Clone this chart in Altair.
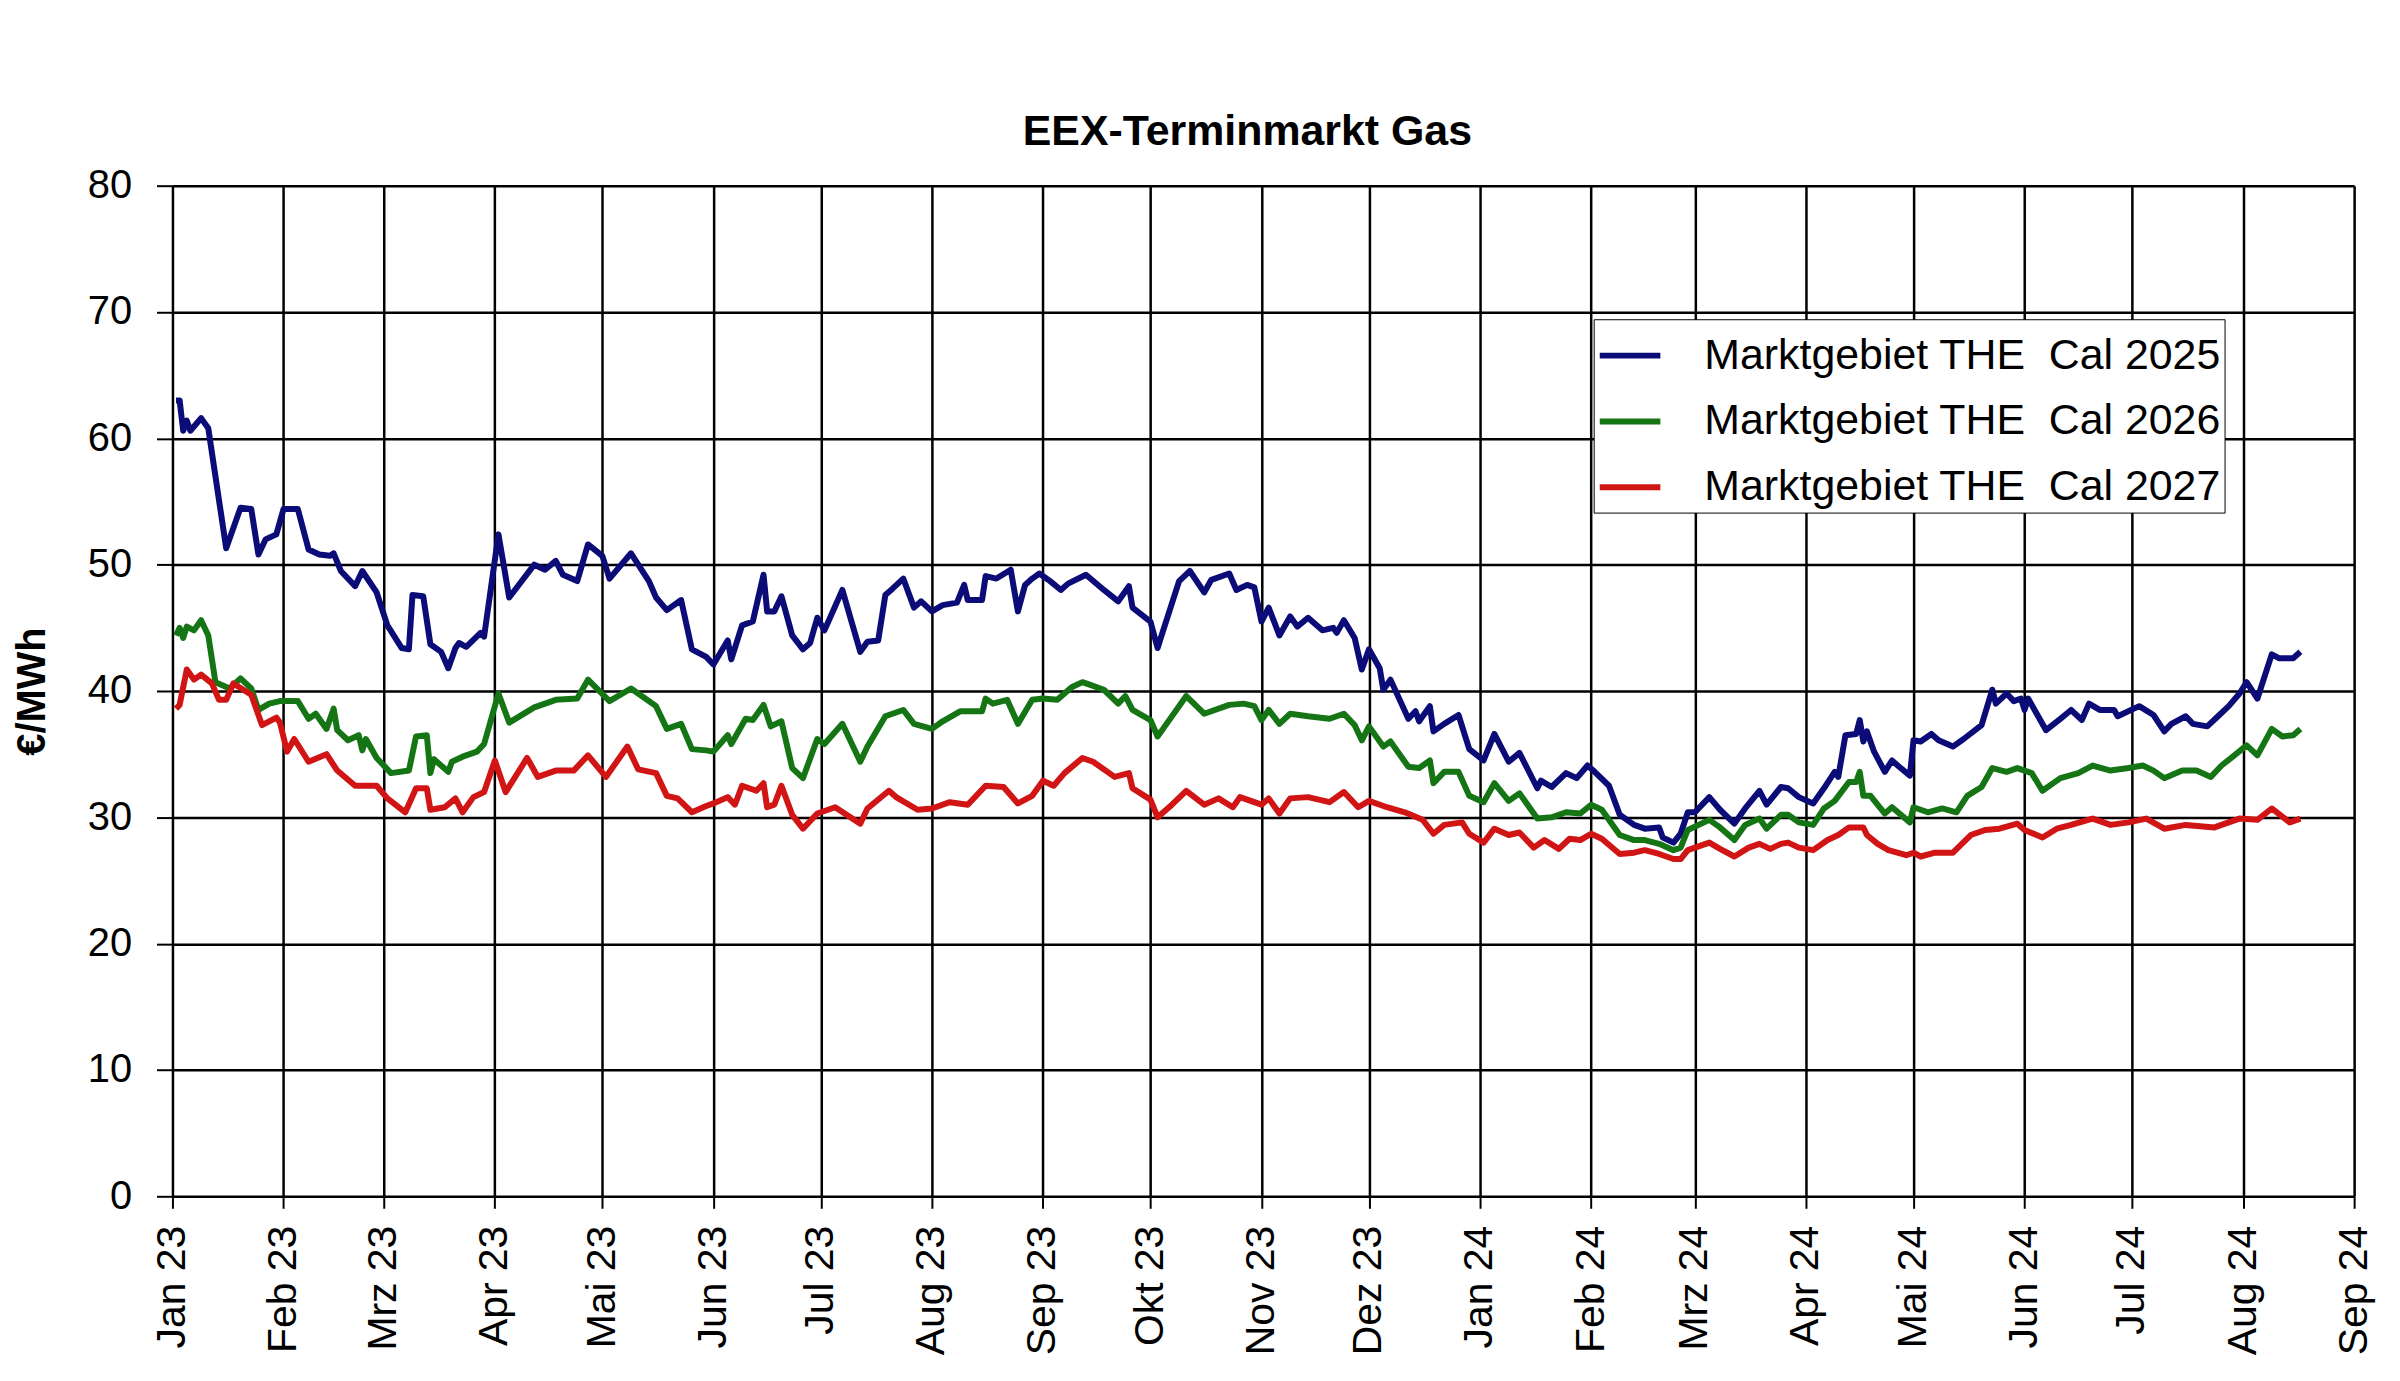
import altair as alt
import pandas as pd

# ---------------- data ----------------
series_names = ["Marktgebiet THE\u00a0 Cal 2025", "Marktgebiet THE\u00a0 Cal 2026", "Marktgebiet THE\u00a0 Cal 2027"]
series_colors = ["#0c0c78", "#157515", "#d11414"]

dates_2025 = [
    "2023-01-02","2023-01-03","2023-01-04","2023-01-05","2023-01-06","2023-01-09","2023-01-11","2023-01-16","2023-01-20","2023-01-23",
    "2023-01-25","2023-01-27","2023-01-30","2023-02-01","2023-02-05","2023-02-08","2023-02-11","2023-02-14","2023-02-15","2023-02-17",
    "2023-02-21","2023-02-23","2023-02-27","2023-03-02","2023-03-06","2023-03-08","2023-03-09","2023-03-12","2023-03-14","2023-03-17",
    "2023-03-19","2023-03-21","2023-03-22","2023-03-24","2023-03-28","2023-03-29","2023-04-02","2023-04-05","2023-04-12","2023-04-15",
    "2023-04-18","2023-04-20","2023-04-24","2023-04-27","2023-05-01","2023-05-03","2023-05-09","2023-05-14","2023-05-16","2023-05-19",
    "2023-05-23","2023-05-26","2023-05-30","2023-06-01","2023-06-05","2023-06-06","2023-06-09","2023-06-12","2023-06-15","2023-06-16",
    "2023-06-18","2023-06-20","2023-06-23","2023-06-26","2023-06-28","2023-06-30","2023-07-02","2023-07-07","2023-07-12","2023-07-14",
    "2023-07-17","2023-07-19","2023-07-21","2023-07-24","2023-07-27","2023-07-29","2023-08-01","2023-08-04","2023-08-08","2023-08-10",
    "2023-08-11","2023-08-15","2023-08-16","2023-08-19","2023-08-23","2023-08-25","2023-08-27","2023-08-29","2023-08-31","2023-09-03",
    "2023-09-06","2023-09-08","2023-09-13","2023-09-18","2023-09-22","2023-09-25","2023-09-26","2023-10-01","2023-10-03","2023-10-04",
    "2023-10-09","2023-10-12","2023-10-16","2023-10-18","2023-10-23","2023-10-25","2023-10-28","2023-10-30","2023-11-01","2023-11-03",
    "2023-11-06","2023-11-09","2023-11-11","2023-11-14","2023-11-18","2023-11-21","2023-11-22","2023-11-24","2023-11-27","2023-11-29",
    "2023-12-01","2023-12-04","2023-12-05","2023-12-07","2023-12-12","2023-12-14","2023-12-15","2023-12-18","2023-12-19","2023-12-22",
    "2023-12-26","2023-12-29","2024-01-02","2024-01-05","2024-01-09","2024-01-12","2024-01-17","2024-01-18","2024-01-21","2024-01-25",
    "2024-01-28","2024-01-31","2024-02-02","2024-02-06","2024-02-09","2024-02-13","2024-02-16","2024-02-20","2024-02-21","2024-02-24",
    "2024-02-26","2024-02-28","2024-03-01","2024-03-05","2024-03-08","2024-03-12","2024-03-15","2024-03-19","2024-03-21","2024-03-25",
    "2024-03-27","2024-03-30","2024-04-03","2024-04-06","2024-04-09","2024-04-10","2024-04-12","2024-04-15","2024-04-16","2024-04-17",
    "2024-04-18","2024-04-20","2024-04-23","2024-04-25","2024-04-27","2024-04-30","2024-05-01","2024-05-03","2024-05-06","2024-05-08",
    "2024-05-12","2024-05-15","2024-05-20","2024-05-23","2024-05-24","2024-05-27","2024-05-29","2024-05-31","2024-06-01","2024-06-02",
    "2024-06-07","2024-06-11","2024-06-14","2024-06-17","2024-06-19","2024-06-22","2024-06-26","2024-06-27","2024-07-03","2024-07-07",
    "2024-07-10","2024-07-12","2024-07-16","2024-07-18","2024-07-22","2024-07-25","2024-07-28","2024-07-31","2024-08-02","2024-08-05",
    "2024-08-09","2024-08-11","2024-08-15","2024-08-17",
]
values_2025 = [
    63.0,63.0,60.6,61.4,60.6,61.6,60.8,51.3,54.5,54.4,
    50.8,52.0,52.4,54.4,54.4,51.2,50.8,50.7,50.9,49.5,
    48.3,49.5,47.8,45.2,43.4,43.3,47.6,47.5,43.7,43.1,
    41.8,43.4,43.8,43.5,44.6,44.3,52.4,47.4,50.0,49.6,
    50.3,49.2,48.7,51.6,50.7,48.9,50.9,48.7,47.4,46.4,
    47.2,43.3,42.7,42.1,44.0,42.5,45.2,45.5,49.2,46.3,
    46.3,47.5,44.4,43.3,43.8,45.8,44.8,48.0,43.1,43.9,
    44.0,47.6,48.1,48.9,46.6,47.1,46.3,46.8,47.0,48.4,
    47.2,47.2,49.1,48.9,49.6,46.3,48.4,48.9,49.3,48.7,
    48.0,48.5,49.2,48.0,47.1,48.3,46.6,45.5,43.4,44.3,
    48.7,49.5,47.8,48.8,49.3,48.0,48.4,48.2,45.5,46.6,
    44.4,45.9,45.1,45.8,44.8,45.0,44.6,45.6,44.2,41.7,
    43.3,41.8,40.1,40.9,37.8,38.4,37.6,38.8,36.8,37.4,
    38.1,35.4,34.5,36.6,34.4,35.1,32.3,32.9,32.4,33.5,
    33.1,34.1,33.6,32.5,30.2,29.4,29.1,29.2,28.4,28.0,
    28.7,30.4,30.4,31.6,30.6,29.5,30.7,32.1,31.0,32.4,
    32.3,31.6,31.1,32.3,33.6,33.2,36.5,36.6,37.7,36.0,
    36.8,35.2,33.6,34.5,34.0,33.3,36.1,36.0,36.6,36.1,
    35.6,36.2,37.3,40.1,39.0,39.8,39.2,39.4,38.5,39.4,
    36.9,37.8,38.5,37.7,39.0,38.5,38.5,38.0,38.8,38.1,
    36.8,37.4,38.0,37.4,37.2,38.0,38.8,39.8,40.7,39.4,
    42.9,42.6,42.6,43.1,
]

dates_2026 = [
    "2023-01-02","2023-01-03","2023-01-04","2023-01-05","2023-01-07","2023-01-09","2023-01-11","2023-01-13","2023-01-17","2023-01-20",
    "2023-01-23","2023-01-25","2023-01-28","2023-01-31","2023-02-05","2023-02-08","2023-02-10","2023-02-13","2023-02-15","2023-02-16",
    "2023-02-19","2023-02-22","2023-02-23","2023-02-24","2023-02-27","2023-03-03","2023-03-08","2023-03-10","2023-03-13","2023-03-14",
    "2023-03-15","2023-03-19","2023-03-20","2023-03-23","2023-03-27","2023-03-29","2023-04-02","2023-04-05","2023-04-12","2023-04-18",
    "2023-04-24","2023-04-27","2023-05-03","2023-05-09","2023-05-16","2023-05-19","2023-05-23","2023-05-26","2023-05-30","2023-06-01",
    "2023-06-05","2023-06-06","2023-06-10","2023-06-12","2023-06-15","2023-06-17","2023-06-20","2023-06-23","2023-06-26","2023-06-30",
    "2023-07-02","2023-07-07","2023-07-12","2023-07-14","2023-07-19","2023-07-24","2023-07-27","2023-08-01","2023-08-04","2023-08-09",
    "2023-08-15","2023-08-16","2023-08-18","2023-08-22","2023-08-25","2023-08-29","2023-09-01","2023-09-05","2023-09-09","2023-09-12",
    "2023-09-14","2023-09-18","2023-09-22","2023-09-24","2023-09-26","2023-10-01","2023-10-03","2023-10-05","2023-10-11","2023-10-16",
    "2023-10-23","2023-10-27","2023-10-30","2023-11-01","2023-11-03","2023-11-06","2023-11-09","2023-11-14","2023-11-20","2023-11-24",
    "2023-11-27","2023-11-29","2023-12-01","2023-12-05","2023-12-07","2023-12-12","2023-12-15","2023-12-18","2023-12-19","2023-12-22",
    "2023-12-26","2023-12-29","2024-01-02","2024-01-05","2024-01-09","2024-01-12","2024-01-17","2024-01-21","2024-01-25","2024-01-29",
    "2024-02-01","2024-02-04","2024-02-09","2024-02-13","2024-02-16","2024-02-20","2024-02-24","2024-02-26","2024-02-28","2024-03-05",
    "2024-03-08","2024-03-12","2024-03-15","2024-03-19","2024-03-21","2024-03-25","2024-03-27","2024-03-30","2024-04-03","2024-04-06",
    "2024-04-09","2024-04-13","2024-04-15","2024-04-16","2024-04-17","2024-04-19","2024-04-23","2024-04-25","2024-04-30","2024-05-01",
    "2024-05-05","2024-05-09","2024-05-13","2024-05-16","2024-05-20","2024-05-23","2024-05-27","2024-05-30","2024-06-03","2024-06-06",
    "2024-06-11","2024-06-16","2024-06-20","2024-06-25","2024-06-30","2024-07-04","2024-07-07","2024-07-10","2024-07-15","2024-07-19",
    "2024-07-23","2024-07-26","2024-07-30","2024-08-02","2024-08-05","2024-08-09","2024-08-12","2024-08-15","2024-08-17",
]
values_2026 = [
    44.4,45.0,44.2,45.1,44.8,45.6,44.4,40.7,40.2,41.0,
    40.2,38.5,39.0,39.2,39.2,37.8,38.2,37.0,38.6,36.9,
    36.1,36.5,35.3,36.2,34.7,33.5,33.7,36.4,36.5,33.5,
    34.6,33.6,34.4,34.8,35.2,35.8,39.8,37.5,38.7,39.3,
    39.4,40.9,39.2,40.2,38.8,37.0,37.4,35.4,35.3,35.2,
    36.5,35.8,37.8,37.7,38.9,37.2,37.6,33.9,33.1,36.2,
    35.8,37.4,34.4,35.6,38.0,38.5,37.4,37.0,37.6,38.4,
    38.4,39.4,39.0,39.3,37.4,39.3,39.4,39.3,40.3,40.7,
    40.5,40.1,39.0,39.6,38.5,37.7,36.4,37.2,39.6,38.2,
    38.9,39.0,38.8,37.7,38.5,37.4,38.2,38.0,37.8,38.2,
    37.3,36.1,37.2,35.6,36.0,34.0,33.9,34.5,32.7,33.6,
    33.6,31.7,31.2,32.7,31.3,31.9,29.9,30.0,30.4,30.3,
    31.0,30.6,28.6,28.2,28.2,27.9,27.4,27.6,29.0,29.8,
    29.2,28.2,29.4,29.9,29.1,30.2,30.2,29.6,29.4,30.7,
    31.3,32.8,32.8,33.6,31.7,31.7,30.3,30.8,29.6,30.8,
    30.4,30.7,30.4,31.7,32.4,33.9,33.6,33.9,33.5,32.1,
    33.1,33.5,34.1,33.7,33.9,34.1,33.7,33.1,33.7,33.7,
    33.2,34.1,35.0,35.7,34.9,37.0,36.4,36.5,37.0,
]

dates_2027 = [
    "2023-01-02","2023-01-03","2023-01-05","2023-01-07","2023-01-09","2023-01-12","2023-01-14","2023-01-16","2023-01-18","2023-01-23",
    "2023-01-26","2023-01-30","2023-01-31","2023-02-02","2023-02-04","2023-02-08","2023-02-13","2023-02-16","2023-02-21","2023-02-27",
    "2023-03-02","2023-03-07","2023-03-10","2023-03-13","2023-03-14","2023-03-18","2023-03-21","2023-03-23","2023-03-26","2023-03-29",
    "2023-04-01","2023-04-04","2023-04-10","2023-04-13","2023-04-18","2023-04-23","2023-04-27","2023-05-02","2023-05-08","2023-05-11",
    "2023-05-16","2023-05-19","2023-05-22","2023-05-26","2023-05-30","2023-06-01","2023-06-05","2023-06-07","2023-06-09","2023-06-13",
    "2023-06-15","2023-06-16","2023-06-18","2023-06-20","2023-06-23","2023-06-26","2023-06-30","2023-07-05","2023-07-12","2023-07-14",
    "2023-07-20","2023-07-22","2023-07-28","2023-08-01","2023-08-06","2023-08-11","2023-08-16","2023-08-21","2023-08-25","2023-08-29",
    "2023-09-01","2023-09-04","2023-09-07","2023-09-12","2023-09-15","2023-09-21","2023-09-25","2023-09-26","2023-10-01","2023-10-03",
    "2023-10-07","2023-10-11","2023-10-16","2023-10-20","2023-10-24","2023-10-26","2023-10-30","2023-11-01","2023-11-03","2023-11-06",
    "2023-11-09","2023-11-14","2023-11-20","2023-11-24","2023-11-28","2023-12-01","2023-12-06","2023-12-11","2023-12-16","2023-12-19",
    "2023-12-22","2023-12-27","2023-12-29","2024-01-02","2024-01-05","2024-01-09","2024-01-12","2024-01-16","2024-01-19","2024-01-23",
    "2024-01-26","2024-01-29","2024-02-01","2024-02-04","2024-02-09","2024-02-13","2024-02-16","2024-02-20","2024-02-24","2024-02-26",
    "2024-02-28","2024-03-05","2024-03-08","2024-03-12","2024-03-16","2024-03-19","2024-03-22","2024-03-25","2024-03-27","2024-03-30",
    "2024-04-03","2024-04-07","2024-04-10","2024-04-13","2024-04-17","2024-04-18","2024-04-21","2024-04-24","2024-04-29","2024-05-01",
    "2024-05-03","2024-05-07","2024-05-12","2024-05-17","2024-05-21","2024-05-25","2024-05-30","2024-06-01","2024-06-06","2024-06-10",
    "2024-06-14","2024-06-20","2024-06-25","2024-06-30","2024-07-05","2024-07-10","2024-07-16","2024-07-24","2024-07-31","2024-08-05",
    "2024-08-09","2024-08-14","2024-08-17",
]
values_2027 = [
    38.6,38.9,41.7,40.9,41.3,40.6,39.3,39.3,40.6,39.7,
    37.3,37.9,37.5,35.2,36.2,34.4,35.0,33.7,32.5,32.5,
    31.5,30.4,32.3,32.3,30.6,30.8,31.5,30.4,31.6,32.0,
    34.5,32.0,34.7,33.2,33.7,33.7,34.9,33.2,35.6,33.8,
    33.5,31.7,31.5,30.4,30.9,31.1,31.6,31.0,32.5,32.1,
    32.7,30.8,31.0,32.5,30.2,29.1,30.3,30.8,29.5,30.7,
    32.1,31.6,30.6,30.7,31.2,31.0,32.5,32.4,31.1,31.7,
    32.9,32.5,33.5,34.7,34.4,33.2,33.5,32.3,31.4,30.0,
    31.0,32.1,31.0,31.5,30.8,31.6,31.2,31.0,31.5,30.3,
    31.5,31.6,31.2,32.0,30.8,31.3,30.8,30.4,29.8,28.7,
    29.4,29.6,28.7,28.0,29.1,28.6,28.8,27.6,28.2,27.5,
    28.3,28.2,28.7,28.3,27.1,27.2,27.4,27.1,26.7,26.7,
    27.4,28.0,27.5,26.9,27.6,27.9,27.5,27.9,28.0,27.6,
    27.4,28.2,28.6,29.2,29.2,28.6,27.9,27.4,27.0,27.2,
    26.9,27.2,27.2,28.6,29.0,29.1,29.5,29.0,28.4,29.1,
    29.4,29.9,29.4,29.6,29.9,29.1,29.4,29.2,29.9,29.8,
    30.7,29.6,29.9,
]

month_names = ["Jan", "Feb", "Mrz", "Apr", "Mai", "Jun", "Jul", "Aug", "Sep", "Okt", "Nov", "Dez"]
y_ticks = [0, 10, 20, 30, 40, 50, 60, 70, 80]

# ---------------- table ----------------
frames = []
for name, d, v in zip(series_names, [dates_2025, dates_2026, dates_2027], [values_2025, values_2026, values_2027]):
    frames.append(pd.DataFrame({"datum": d, "wert": v, "serie": name}))
df = pd.concat(frames, ignore_index=True)
df["order"] = range(len(df))

month_ticks = []
for yr in (2023, 2024):
    for m in range(1, 13):
        if yr == 2024 and m > 9:
            break
        month_ticks.append(alt.DateTime(year=yr, month=m, date=1, utc=True))

label_expr = ("[" + ",".join("'%s'" % n for n in month_names) + "][utcmonth(datum.value)]"
              " + ' ' + utcFormat(datum.value, '%y')")

FONT = "Liberation Sans"

chart = alt.Chart(df).mark_line(strokeWidth=6, strokeJoin="round").encode(
    x=alt.X(
        "datum:T",
        scale=alt.Scale(type="utc",
                        domain=[alt.DateTime(year=2023, month=1, date=1, utc=True),
                                alt.DateTime(year=2024, month=9, date=1, utc=True)]),
        axis=alt.Axis(values=month_ticks, labelExpr=label_expr, labelAngle=-90,
                      labelFontSize=41, labelPadding=17, tickSize=12, tickWidth=2,
                      tickColor="black", grid=True, gridColor="black", gridWidth=2.5,
                      gridOpacity=1, domain=False, title=None, labelColor="black",
                      labelFont=FONT, labelOverlap=False, labelBound=False, labelFlush=False),
    ),
    y=alt.Y(
        "wert:Q",
        scale=alt.Scale(domain=[0, 80], nice=False, zero=True),
        axis=alt.Axis(values=y_ticks, labelFontSize=40, labelPadding=25, tickSize=16,
                      tickWidth=2, tickColor="black", grid=True, gridColor="black",
                      gridWidth=2.5, gridOpacity=1, domain=False, title="€/MWh",
                      titleFontSize=40, titleFontWeight="bold", titleFont=FONT,
                      titleColor="black", titleX=-140, titleY=507, titleAngle=-90,
                      titleAlign="center", titleBaseline="middle",
                      labelColor="black", labelFont=FONT, labelFlush=False, labelOverlap=False),
    ),
    color=alt.Color(
        "serie:N",
        scale=alt.Scale(domain=series_names, range=series_colors),
        legend=alt.Legend(title=None, orient="none", legendX=1426, legendY=134,
                          direction="vertical", symbolType="stroke", symbolSize=3700,
                          symbolStrokeWidth=6, labelFontSize=43, labelFont=FONT,
                          labelColor="black", labelOffset=41, rowPadding=10,
                          padding=3, fillColor="white", strokeColor="black",
                          labelLimit=1000),
    ),
    order="order:Q",
).properties(
    width=2189,
    height=1014,
    autosize="none",
    padding={"left": 165, "top": 176, "right": 38, "bottom": 175},
    title=alt.TitleParams("EEX-Terminmarkt Gas", fontSize=43, font=FONT, fontWeight="bold",
                          color="black", anchor="middle", dx=-16, offset=12),
).configure_view(
    stroke="black", strokeWidth=7
).configure(background="white")

chart.save("out.html", embed_options={"renderer": "svg", "actions": False})
